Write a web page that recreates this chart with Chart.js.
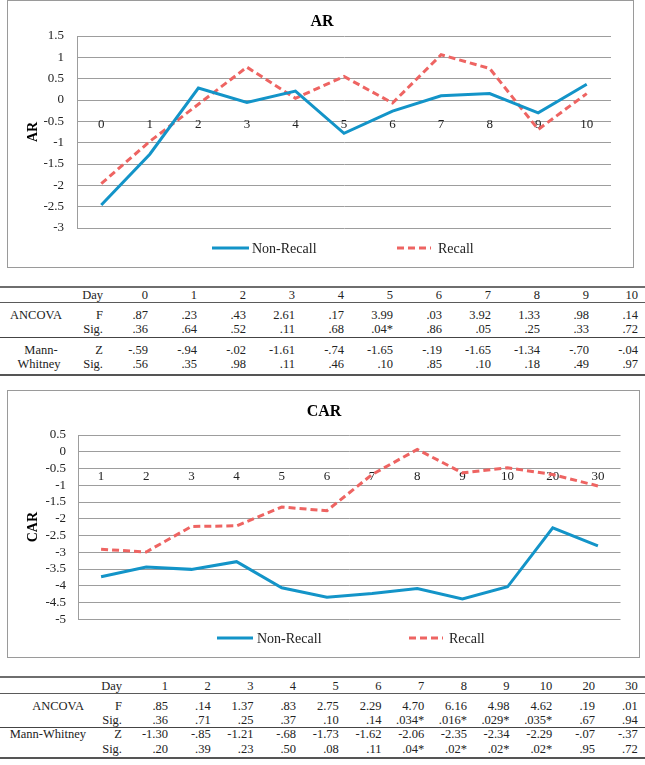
<!DOCTYPE html>
<html><head><meta charset="utf-8">
<script src="https://cdn.jsdelivr.net/npm/chart.js@4.4.0/dist/chart.umd.min.js"></script>
<style>
html,body{margin:0;padding:0;background:#fff;}
body{width:645px;height:765px;position:relative;overflow:hidden;font-family:'Liberation Serif','Times New Roman',serif;}
.box{position:absolute;box-sizing:border-box;border:1px solid #9a9a9a;}
canvas{position:absolute;left:0;}
.hl{position:absolute;left:0;width:645px;}
.c{position:absolute;font-size:12.5px;color:#222;white-space:nowrap;line-height:1;transform:translateY(-50%);}
</style></head><body>
<div class="box" style="left:7px;top:0;width:627px;height:268px"></div>
<div class="box" style="left:7px;top:390px;width:633px;height:268px"></div>
<canvas id="ar" width="645" height="270" style="top:0;width:645px;height:270px"></canvas>
<canvas id="car" width="645" height="270" style="top:390px;width:645px;height:270px"></canvas>
<script>
// ---- data ----
const arDays = ['0','1','2','3','4','5','6','7','8','9','10'];
const arNonRecall = [-2.46, -1.27, 0.28, -0.06, 0.21, -0.78, -0.26, 0.10, 0.15, -0.30, 0.37];
const arRecall = [-1.96, -0.97, -0.10, 0.77, 0.04, 0.55, -0.07, 1.06, 0.74, -0.69, 0.15];

const carDays = ['1','2','3','4','5','6','7','8','9','10','20','30'];
const carNonRecall = [-3.73, -3.44, -3.51, -3.28, -4.06, -4.34, -4.23, -4.08, -4.39, -4.03, -2.27, -2.81];
const carRecall = [-2.91, -2.99, -2.23, -2.21, -1.65, -1.76, -0.68, 0.07, -0.63, -0.48, -0.68, -1.02];

const seriesNames = ['Non-Recall', 'Recall'];

const t1F = ['.87','.23','.43','2.61','.17','3.99','.03','3.92','1.33','.98','.14'];
const t1FSig = ['.36','.64','.52','.11','.68','.04*','.86','.05','.25','.33','.72'];
const t1Z = ['-.59','-.94','-.02','-1.61','-.74','-1.65','-.19','-1.65','-1.34','-.70','-.04'];
const t1ZSig = ['.56','.35','.98','.11','.46','.10','.85','.10','.18','.49','.97'];

const t2F = ['.85','.14','1.37','.83','2.75','2.29','4.70','6.16','4.98','4.62','.19','.01'];
const t2FSig = ['.36','.71','.25','.37','.10','.14','.034*','.016*','.029*','.035*','.67','.94'];
const t2Z = ['-1.30','-.85','-1.21','-.68','-1.73','-1.62','-2.06','-2.35','-2.34','-2.29','-.07','-.37'];
const t2ZSig = ['.20','.39','.23','.50','.08','.11','.04*','.02*','.02*','.02*','.95','.72'];

// ---- styles ----
const SERIF = "'Liberation Serif', 'Times New Roman', serif";
const BLUE = '#1394c8';
const RED = '#ee6462';
const GRID = '#9d9d9d';

const seriesLegend = {
  id: 'seriesLegend',
  afterDraw(chart, args, o) {
    const ctx = chart.ctx;
    chart.data.datasets.forEach((ds, i) => {
      const it = o.items[i];
      ctx.save();
      ctx.strokeStyle = ds.borderColor;
      ctx.lineWidth = ds.borderWidth;
      ctx.lineCap = 'butt';
      ctx.setLineDash(ds.borderDash || []);
      ctx.beginPath();
      ctx.moveTo(it.x, o.y);
      ctx.lineTo(it.x + it.w, o.y);
      ctx.stroke();
      ctx.setLineDash([]);
      ctx.fillStyle = '#222';
      ctx.font = '14px ' + SERIF;
      ctx.textBaseline = 'middle';
      ctx.textAlign = 'left';
      ctx.fillText(ds.label, it.x + it.w + it.gap, o.y + 1);
      ctx.restore();
    });
  }
};

function makeChart(id, labels, nonRecall, recall, opt) {
  return new Chart(document.getElementById(id), {
    type: 'line',
    data: {
      labels: labels,
      datasets: [
        {label: seriesNames[0], data: nonRecall, borderColor: BLUE, borderWidth: 3, pointRadius: 0, tension: 0, fill: false},
        {label: seriesNames[1], data: recall, borderColor: RED, borderWidth: 3, borderDash: [7, 4], pointRadius: 0, tension: 0, fill: false}
      ]
    },
    options: {
      responsive: false, animation: false, devicePixelRatio: 1,
      layout: {padding: {left: opt.pl, right: opt.pr, top: 0, bottom: opt.pb}},
      plugins: {
        legend: {display: false},
        tooltip: {enabled: false},
        title: {display: true, text: opt.title, color: '#000',
          font: {family: SERIF, size: 16, weight: 'bold'},
          padding: {top: 11.9, bottom: opt.titleBottom}},
        seriesLegend: {items: opt.legendItems, y: opt.legendY}
      },
      scales: {
        x: {type: 'category', position: {y: 0}, offset: true,
          grid: {display: false}, border: {display: false},
          ticks: {autoSkip: false, maxRotation: 0, padding: 9, color: '#222', font: {family: SERIF, size: 13}}},
        y: {min: opt.min, max: opt.max,
          afterFit: s => { s.width = opt.yw; },
          grid: {color: GRID, drawTicks: false, lineWidth: 1},
          border: {display: true, color: GRID},
          ticks: {stepSize: 0.5, autoSkip: false, maxTicksLimit: 40, padding: opt.tickPad, color: '#222',
            font: {family: SERIF, size: 13, lineHeight: 1}, callback: v => String(v)},
          title: {display: true, text: opt.title, color: '#000',
            font: {family: SERIF, size: 14, weight: 'bold'}, padding: {top: opt.ytPad, bottom: 0}}}
      }
    },
    plugins: [seriesLegend]
  });
}

makeChart('ar', arDays, arNonRecall, arRecall, {
  title: 'AR', min: -3, max: 1.5, pl: 33, pr: 34, pb: 42, yw: 44, tickPad: 13, ytPad: -8.4,
  titleBottom: 4.9, legendY: 248,
  legendItems: [{x: 212, w: 37, gap: 3}, {x: 397, w: 34, gap: 7}]
});
makeChart('car', carDays, carNonRecall, carRecall, {
  title: 'CAR', min: -5, max: 0.5, pl: 27.5, pr: 24.5, pb: 40.7, yw: 51, tickPad: 12.5, ytPad: -2.9,
  titleBottom: 13.9, legendY: 248,
  legendItems: [{x: 217, w: 36, gap: 4}, {x: 409, w: 34, gap: 6}]
});

// ---- tables ----
function txt(s, x, y, align) {
  const d = document.createElement('div');
  d.className = 'c';
  d.textContent = s;
  d.style.top = y + 'px';
  if (align === 'right') { d.style.right = (645 - x) + 'px'; }
  else if (align === 'center') { d.style.left = x + 'px'; d.style.transform = 'translate(-50%,-50%)'; }
  else { d.style.left = x + 'px'; }
  document.body.appendChild(d);
}
function hline(y, h, color) {
  const d = document.createElement('div');
  d.className = 'hl';
  d.style.top = y + 'px';
  d.style.height = h + 'px';
  d.style.background = color;
  document.body.appendChild(d);
}
function table(cfg, days, F, FS, Z, ZS) {
  cfg.lines.forEach(l => hline(l[0], l[1], l[2]));
  const r = cfg.rows;
  txt('Day', cfg.statRight, r[0], 'right');
  txt('F', cfg.statRight, r[1], 'right');
  txt('Sig.', cfg.statRight, r[2], 'right');
  txt('Z', cfg.statRight, r[3], 'right');
  txt('Sig.', cfg.statRight, r[4], 'right');
  cfg.groupLabels.forEach(g => txt(g.t, g.x, r[g.row], g.align));
  days.forEach((d, i) => {
    const x = cfg.firstRight + i * cfg.step;
    txt(d, x, r[0], 'right');
    txt(F[i], x, r[1], 'right');
    txt(FS[i], x, r[2], 'right');
    txt(Z[i], x, r[3], 'right');
    txt(ZS[i], x, r[4], 'right');
  });
}
table({
  lines: [[286, 2, '#6e6e6e'], [302, 1, '#5a5a5a'], [337, 1, '#444'], [374, 2, '#555']],
  rows: [294.5, 315, 329, 350, 364],
  statRight: 103, firstRight: 148, step: 49,
  groupLabels: [{t: 'ANCOVA', x: 36, row: 1, align: 'center'}, {t: 'Mann-', x: 41, row: 3, align: 'center'}, {t: 'Whitney', x: 39, row: 4, align: 'center'}]
}, arDays, t1F, t1FSig, t1Z, t1ZSig);
table({
  lines: [[676, 2, '#6e6e6e'], [693, 1, '#5a5a5a'], [727, 1, '#444'], [757, 2, '#555']],
  rows: [685.5, 705.5, 720, 734, 748.5],
  statRight: 122, firstRight: 168, step: 42.7,
  groupLabels: [{t: 'ANCOVA', x: 84, row: 1, align: 'right'}, {t: 'Mann-Whitney', x: 86, row: 3, align: 'right'}]
}, carDays, t2F, t2FSig, t2Z, t2ZSig);
</script>
</body></html>
